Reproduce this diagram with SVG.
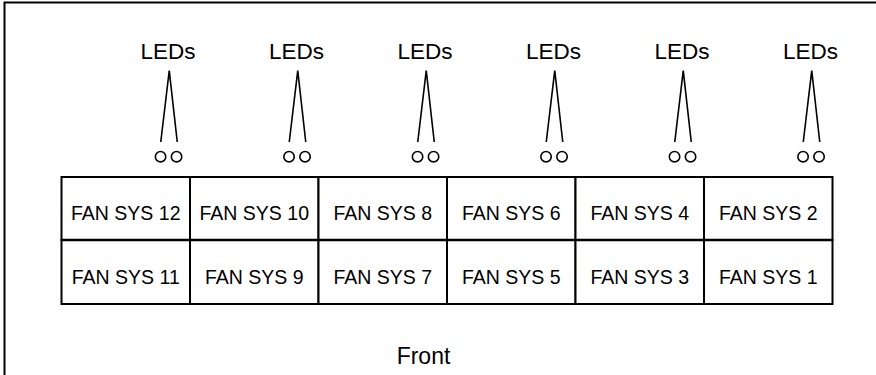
<svg xmlns="http://www.w3.org/2000/svg" width="876" height="375" viewBox="0 0 876 375">
  <style>
    .frame { fill: none; stroke: #000; stroke-width: 2; }
    .cell { fill: #fff; stroke: #000; stroke-width: 2; }
    .lbl { font-family: "Liberation Sans", Arial, sans-serif; fill: #000; text-anchor: middle; }
    .fan { font-size: 19.5px; }
    .led-lbl { font-size: 22.5px; }
    .front { font-size: 23px; }
    .lead { fill: none; stroke: #000; stroke-width: 1.6; stroke-linejoin: miter; }
    .led { fill: #fff; stroke: #000; stroke-width: 1.6; }
  </style>
  <defs>
    <!-- LED pair, origin at the column centre -->
    <g id="ledPair">
      <circle class="led" cx="34.8" cy="156.7" r="5.2"/>
      <circle class="led" cx="50.8" cy="156.7" r="5.2"/>
    </g>
  </defs>

  <rect width="876" height="375" fill="#fff"/>
  <!-- open frame: top and left edges only -->
  <path class="frame" d="M4.5,375 V2.5 H876"/>

  <!-- fan module grid -->
  <g id="fan-sys-12"><rect class="cell" x="61.5" y="177" width="128.5" height="63"/><text class="lbl fan" x="125.75" y="220">FAN SYS 12</text></g>
  <g id="fan-sys-10"><rect class="cell" x="190" y="177" width="128.5" height="63"/><text class="lbl fan" x="254.25" y="220">FAN SYS 10</text></g>
  <g id="fan-sys-8"><rect class="cell" x="318.5" y="177" width="128.5" height="63"/><text class="lbl fan" x="382.75" y="220">FAN SYS 8</text></g>
  <g id="fan-sys-6"><rect class="cell" x="447" y="177" width="128.5" height="63"/><text class="lbl fan" x="511.25" y="220">FAN SYS 6</text></g>
  <g id="fan-sys-4"><rect class="cell" x="575.5" y="177" width="128.5" height="63"/><text class="lbl fan" x="639.75" y="220">FAN SYS 4</text></g>
  <g id="fan-sys-2"><rect class="cell" x="704" y="177" width="128.5" height="63"/><text class="lbl fan" x="768.25" y="220">FAN SYS 2</text></g>

  <g id="fan-sys-11"><rect class="cell" x="61.5" y="240" width="128.5" height="64"/><text class="lbl fan" x="125.75" y="283.5">FAN SYS 11</text></g>
  <g id="fan-sys-9"><rect class="cell" x="190" y="240" width="128.5" height="64"/><text class="lbl fan" x="254.25" y="283.5">FAN SYS 9</text></g>
  <g id="fan-sys-7"><rect class="cell" x="318.5" y="240" width="128.5" height="64"/><text class="lbl fan" x="382.75" y="283.5">FAN SYS 7</text></g>
  <g id="fan-sys-5"><rect class="cell" x="447" y="240" width="128.5" height="64"/><text class="lbl fan" x="511.25" y="283.5">FAN SYS 5</text></g>
  <g id="fan-sys-3"><rect class="cell" x="575.5" y="240" width="128.5" height="64"/><text class="lbl fan" x="639.75" y="283.5">FAN SYS 3</text></g>
  <g id="fan-sys-1"><rect class="cell" x="704" y="240" width="128.5" height="64"/><text class="lbl fan" x="768.25" y="283.5">FAN SYS 1</text></g>
  <!-- heavier divider between the two rows -->
  <line x1="61.5" y1="240" x2="832.5" y2="240" stroke="#000" stroke-width="2.6"/>

  <!-- LED indicators and labels -->
  <g id="leds-12"><text class="lbl led-lbl" x="168" y="59">LEDs</text><use href="#ledPair" x="125.75"/></g>
  <g id="leds-10"><text class="lbl led-lbl" x="296.5" y="59">LEDs</text><use href="#ledPair" x="254.25"/></g>
  <g id="leds-8"><text class="lbl led-lbl" x="425" y="59">LEDs</text><use href="#ledPair" x="382.75"/></g>
  <g id="leds-6"><text class="lbl led-lbl" x="553.5" y="59">LEDs</text><use href="#ledPair" x="511.25"/></g>
  <g id="leds-4"><text class="lbl led-lbl" x="682" y="59">LEDs</text><use href="#ledPair" x="639.75"/></g>
  <g id="leds-2"><text class="lbl led-lbl" x="810.5" y="59">LEDs</text><use href="#ledPair" x="768.25"/></g>

  <!-- lead lines from each label down to its LED pair -->
  <g id="connectors">
    <path class="lead" d="M160.75,142 L169.25,70.7 L177.25,142"/>
    <path class="lead" d="M289.25,142 L297.75,70.7 L305.75,142"/>
    <path class="lead" d="M417.75,142 L426.25,70.7 L434.25,142"/>
    <path class="lead" d="M546.25,142 L554.75,70.7 L562.75,142"/>
    <path class="lead" d="M674.75,142 L683.25,70.7 L691.25,142"/>
    <path class="lead" d="M803.25,142 L811.75,70.7 L819.75,142"/>
  </g>

  <text id="front" class="lbl front" x="423.5" y="364.3">Front</text>
</svg>
